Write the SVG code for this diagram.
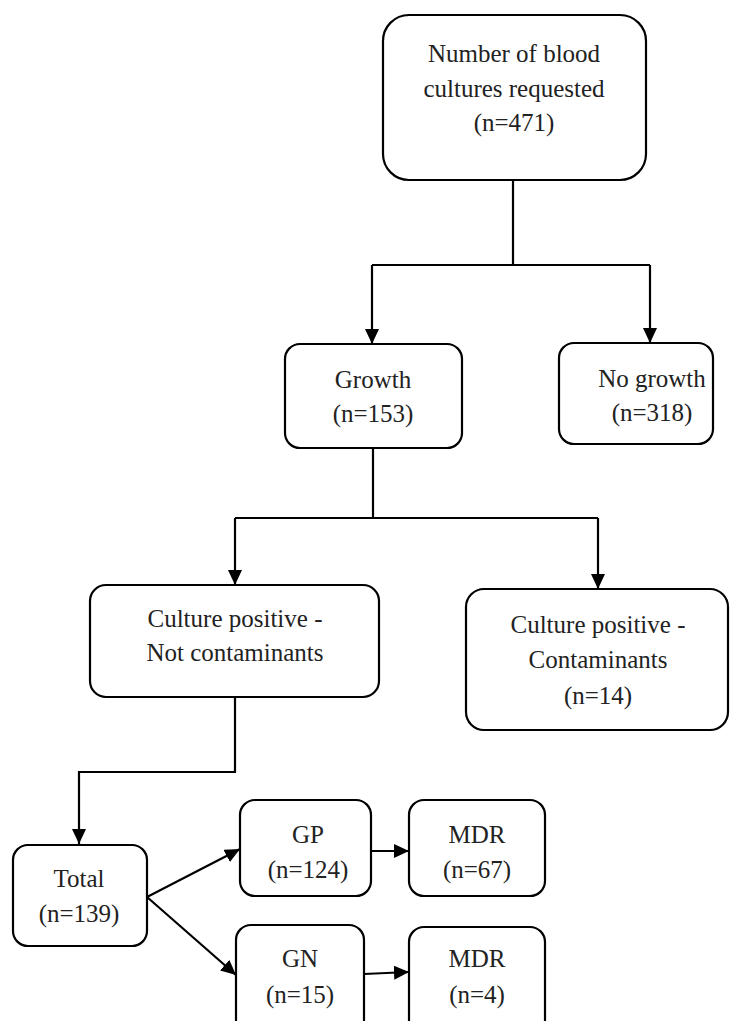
<svg xmlns="http://www.w3.org/2000/svg" width="734" height="1021" viewBox="0 0 734 1021">
<style>
.box{fill:#fff;stroke:#000;stroke-width:2.2}
.t{font-family:"Liberation Serif","DejaVu Serif",serif;font-size:25px;fill:#222;text-anchor:middle}
.c{fill:none;stroke:#000;stroke-width:2.2}
</style>
<defs>
<marker id="ah" markerUnits="userSpaceOnUse" markerWidth="16" markerHeight="14" refX="15" refY="7" orient="auto">
<path d="M0,0 L15,7 L0,14 Z" fill="#000"/>
</marker>
</defs>
<g id="connectors">
<path class="c" d="M513,180 V265"/>
<path class="c" d="M372,265 H650"/>
<path class="c" d="M372,265 V344" marker-end="url(#ah)"/>
<path class="c" d="M650,265 V343" marker-end="url(#ah)"/>
<path class="c" d="M373,448 V518"/>
<path class="c" d="M235,518 H598"/>
<path class="c" d="M235,518 V585" marker-end="url(#ah)"/>
<path class="c" d="M598,518 V589" marker-end="url(#ah)"/>
<path class="c" d="M235,697 V772 H79 V844" marker-end="url(#ah)"/>
<path class="c" d="M147,897 L240,849" marker-end="url(#ah)"/>
<path class="c" d="M147,897 L236,975" marker-end="url(#ah)"/>
<path class="c" d="M371,851 H409" marker-end="url(#ah)"/>
<path class="c" d="M364,974 L409,972" marker-end="url(#ah)"/>
</g>
<g id="n_total_requested">
<rect class="box" x="383" y="15" width="263" height="165" rx="26"/>
<text class="t" x="514" y="62">Number of blood</text>
<text class="t" x="514" y="97">cultures requested</text>
<text class="t" x="514" y="131">(n=471)</text>
</g>
<g id="n_growth">
<rect class="box" x="285" y="344" width="177" height="104" rx="15"/>
<text class="t" x="373" y="388">Growth</text>
<text class="t" x="373" y="422">(n=153)</text>
</g>
<g id="n_nogrowth">
<rect class="box" x="559" y="343" width="154" height="101" rx="15"/>
<text class="t" x="652" y="387">No growth</text>
<text class="t" x="652" y="421">(n=318)</text>
</g>
<g id="n_notcontam">
<rect class="box" x="90" y="585" width="289" height="112" rx="16"/>
<text class="t" x="235" y="627">Culture positive -</text>
<text class="t" x="235" y="661">Not contaminants</text>
</g>
<g id="n_contam">
<rect class="box" x="466" y="589" width="262" height="141" rx="18"/>
<text class="t" x="598" y="633">Culture positive -</text>
<text class="t" x="598" y="668">Contaminants</text>
<text class="t" x="598" y="704">(n=14)</text>
</g>
<g id="n_total">
<rect class="box" x="13" y="845" width="134" height="101" rx="15"/>
<text class="t" x="79" y="887">Total</text>
<text class="t" x="79" y="922">(n=139)</text>
</g>
<g id="n_gp">
<rect class="box" x="240" y="800" width="131" height="96" rx="15"/>
<text class="t" x="308" y="843">GP</text>
<text class="t" x="308" y="878">(n=124)</text>
</g>
<g id="n_mdr1">
<rect class="box" x="409" y="800" width="136" height="96" rx="15"/>
<text class="t" x="477" y="843">MDR</text>
<text class="t" x="477" y="878">(n=67)</text>
</g>
<g id="n_gn">
<rect class="box" x="236" y="925" width="128" height="110" rx="15"/>
<text class="t" x="300" y="967">GN</text>
<text class="t" x="300" y="1003">(n=15)</text>
</g>
<g id="n_mdr2">
<rect class="box" x="409" y="927" width="136" height="108" rx="15"/>
<text class="t" x="477" y="967">MDR</text>
<text class="t" x="477" y="1003">(n=4)</text>
</g>
</svg>
